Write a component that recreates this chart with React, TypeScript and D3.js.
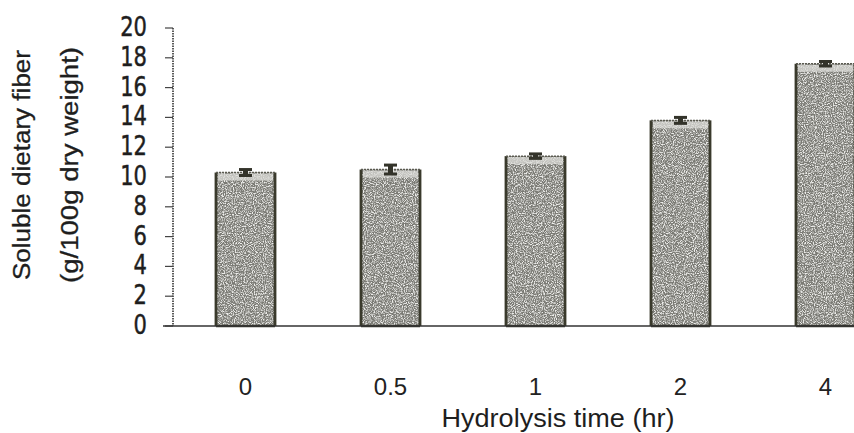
import React from "react";
import * as d3 from "d3";

const categories = ["0", "0.5", "1", "2", "4"];
const values = [10.3, 10.5, 11.4, 13.8, 17.6];
const errors = [0.2, 0.3, 0.15, 0.2, 0.15];
const yTicks = [0, 2, 4, 6, 8, 10, 12, 14, 16, 18, 20];

export default function App() {
  const W = 854, H = 433;
  const axisX = 173;
  const y = d3.scaleLinear().domain([0, 20]).range([326, 28]);
  const x = d3
    .scaleBand<string>()
    .domain(categories)
    .range([axisX, axisX + 145 * 5])
    .paddingInner(0.593)
    .paddingOuter(0.2965);
  const bw = x.bandwidth();

  return (
    <svg width={W} height={H} style={{ position: "absolute", left: 0, top: 0, background: "#fff" }}>
      <defs>
        <filter id="grain" x="0" y="0" width="100%" height="100%">
          <feTurbulence type="fractalNoise" baseFrequency="0.9" numOctaves="2" seed="5" result="n" />
          <feColorMatrix
            in="n"
            type="matrix"
            values="0 0 0 0 0.85  0 0 0 0 0.85  0 0 0 0 0.83  3.2 0 0 0 -1.3"
          />
        </filter>
      </defs>
      <rect x={0} y={0} width={W} height={H} fill="#fff" />

      {/* y axis */}
      <line x1={axisX} x2={axisX} y1={y(20)} y2={y(0)} stroke="#333" strokeWidth={1.6} strokeDasharray="1.5 1" />
      {yTicks.map((t) => (
        <g key={t}>
          <line x1={axisX - 8} x2={axisX} y1={y(t)} y2={y(t)} stroke="#444" strokeWidth={1.2} />
          <text
            transform={`translate(147, ${y(t) - 1}) scale(0.78, 1)`}
            textAnchor="end"
            dominantBaseline="central"
            fontFamily="DejaVu Sans"
            fontSize={27}
            fill="#1e1e1e"
            stroke="#1e1e1e"
            strokeWidth={0.5}
          >
            {t}
          </text>
        </g>
      ))}

      {/* bars */}
      {categories.map((c, i) => {
        const x0 = x(c)!;
        const top = y(values[i]);
        const h = y(0) - top;
        return (
          <g key={c}>
            <rect x={x0} y={top} width={bw} height={h} fill="#7a7a74" />
            <rect x={x0} y={top} width={bw} height={h} fill="#fff" filter="url(#grain)" />
            <rect x={x0 + 2} y={top + 1} width={bw - 4} height={7} fill="#dcdcd8" opacity={0.75} />
            <line x1={x0} x2={x0} y1={top} y2={y(0)} stroke="#3a3a2c" strokeWidth={2.8} />
            <line x1={x0 + bw} x2={x0 + bw} y1={top} y2={y(0)} stroke="#3a3a2c" strokeWidth={2.8} />
            <line x1={x0} x2={x0 + bw} y1={top} y2={top} stroke="#5a5a50" strokeWidth={1.5} strokeDasharray="2 1" />
            <line x1={x0} x2={x0 + bw} y1={y(0)} y2={y(0)} stroke="#3a3a2c" strokeWidth={2.5} />
          </g>
        );
      })}

      {/* error bars */}
      {categories.map((c, i) => {
        const cx = x(c)! + bw / 2;
        const yHi = y(values[i] + errors[i]);
        const yLo = y(values[i] - errors[i]);
        return (
          <g key={"e" + c} stroke="#33332a" strokeWidth={3}>
            <line x1={cx} x2={cx} y1={yHi} y2={yLo} strokeWidth={5} />
            <line x1={cx - 6.5} x2={cx + 6.5} y1={yHi} y2={yHi} />
            <line x1={cx - 6.5} x2={cx + 6.5} y1={yLo} y2={yLo} />
          </g>
        );
      })}

      {/* x axis */}
      <line x1={163} x2={W} y1={y(0)} y2={y(0)} stroke="#333" strokeWidth={1.3} />
      {categories.map((c) => (
        <text
          key={"t" + c}
          x={x(c)! + bw / 2}
          y={395}
          textAnchor="middle"
          fontFamily="Liberation Sans"
          fontSize={24}
          fill="#222"
        >
          {c}
        </text>
      ))}
      <text
        x={558}
        y={427}
        textAnchor="middle"
        fontFamily="Liberation Sans"
        fontSize={25}
        textLength={233}
        lengthAdjust="spacingAndGlyphs"
        fill="#1e1e1e"
      >
        Hydrolysis time (hr)
      </text>

      {/* y title */}
      <text
        transform="translate(30, 165) rotate(-90)"
        textAnchor="middle"
        fontFamily="Liberation Sans"
        fontSize={23}
        textLength={230}
        lengthAdjust="spacingAndGlyphs"
        fill="#1e1e1e"
        stroke="#1e1e1e"
        strokeWidth={0.3}
      >
        Soluble dietary fiber
      </text>
      <text
        transform="translate(78, 165) rotate(-90)"
        textAnchor="middle"
        fontFamily="Liberation Sans"
        fontSize={23}
        textLength={236}
        lengthAdjust="spacingAndGlyphs"
        fill="#1e1e1e"
        stroke="#1e1e1e"
        strokeWidth={0.3}
      >
        (g/100g dry weight)
      </text>
    </svg>
  );
}
